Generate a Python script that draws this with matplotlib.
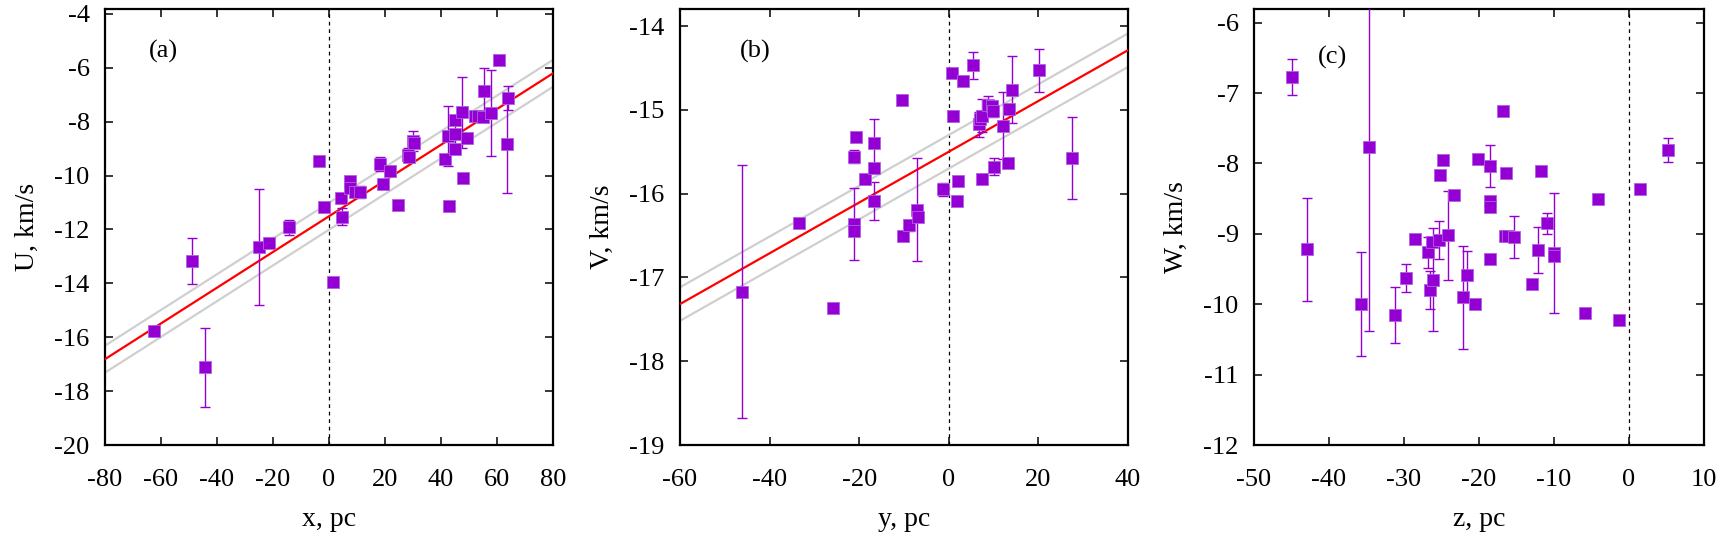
import matplotlib

matplotlib.use("Agg")
import matplotlib.pyplot as plt
import numpy as np

# ---- panel (a): U vs x ----
x_pc = [-62.4, -48.8, -44.2, -25.0, -21.4, -14.2, -3.5, -1.8, 1.45, 4.2,
        4.5, 7.5, 7.5, 9.3, 11.1, 18.2, 19.4, 21.8, 24.8, 28.2,
        28.5, 30.1, 30.4, 41.4, 42.6, 42.9, 45.0, 45.0, 45.0, 47.6,
        48.0, 49.2, 52.1, 53.3, 54.9, 55.5, 57.7, 60.8, 63.4, 64.1]
u_kms = [-15.77, -13.18, -17.12, -12.66, -12.51, -11.92, -9.45, -11.18, -13.96, -10.84,
         -11.52, -10.22, -10.47, -10.60, -10.62, -9.57, -10.31, -9.83, -11.10, -9.22,
         -9.30, -8.71, -8.78, -9.39, -8.53, -11.13, -7.93, -8.45, -9.02, -7.65,
         -10.10, -8.62, -7.78, -7.78, -7.84, -6.88, -7.69, -5.71, -8.84, -7.13]
u_err = [0.0, 0.85, 1.47, 2.15, 0.0, 0.27, 0.0, 0.0, 0.0, 0.0,
         0.30, 0.0, 0.0, 0.0, 0.23, 0.25, 0.0, 0.0, 0.0, 0.25,
         0.0, 0.38, 0.0, 0.0, 1.10, 0.0, 0.12, 0.60, 0.0, 1.31,
         0.10, 0.0, 0.0, 0.0, 0.10, 0.87, 1.59, 0.0, 1.82, 0.45]

# ---- panel (b): V vs y ----
y_pc = [-46.2, -33.5, -25.9, -21.25, -20.8, -21.25, -21.25, -18.8, -16.6, -16.6,
        -16.7, -10.4, -10.2, -8.9, -7.0, -6.8, -1.2, 0.8, 1.0, 1.8,
        2.1, 3.2, 5.5, 6.7, 7.0, 7.3, 7.3, 8.8, 9.6, 9.9,
        10.2, 12.2, 13.3, 13.5, 14.0, 20.2, 27.6]
v_kms = [-17.17, -16.35, -17.37, -15.56, -15.33, -16.36, -16.44, -15.82, -15.39, -15.70,
         -16.09, -14.88, -16.50, -16.38, -16.19, -16.28, -15.95, -14.56, -15.07, -16.09,
         -15.85, -14.65, -14.47, -15.17, -15.11, -15.07, -15.82, -14.94, -14.96, -15.01,
         -15.68, -15.19, -15.64, -14.99, -14.76, -14.53, -15.58]
v_err = [1.51, 0.0, 0.0, 0.08, 0.0, 0.43, 0.0, 0.0, 0.28, 0.0,
         0.23, 0.0, 0.0, 0.07, 0.61, 0.0, 0.08, 0.0, 0.0, 0.0,
         0.0, 0.0, 0.16, 0.15, 0.0, 0.20, 0.0, 0.10, 0.0, 0.08,
         0.10, 0.40, 0.0, 0.0, 0.40, 0.26, 0.49]

# ---- panel (c): W vs z ----
z_pc = [-45.0, -42.9, -35.7, -34.7, -31.25, -29.7, -28.5, -26.76, -26.6, -26.3,
        -26.1, -25.3, -25.16, -24.76, -24.1, -23.3, -22.1, -21.6, -20.5, -20.2,
        -18.6, -18.5, -18.6, -18.6, -16.8, -16.36, -16.5, -16.1, -15.3, -12.9,
        -12.1, -11.8, -11.0, -10.0, -10.0, -5.9, -4.1, -1.4, 1.4, 5.2]
w_kms = [-6.77, -9.22, -10.00, -7.76, -10.15, -9.63, -9.08, -9.26, -9.80, -9.12,
         -9.65, -9.09, -8.17, -7.95, -9.02, -8.45, -9.90, -9.59, -9.99, -7.93,
         -8.04, -8.53, -8.62, -9.36, -7.26, -8.13, -9.03, -9.03, -9.05, -9.71,
         -9.23, -8.11, -8.85, -9.27, -9.32, -10.13, -8.50, -10.22, -8.37, -7.81]
w_err = [0.26, 0.73, 0.74, 2.62, 0.40, 0.20, 0.0, 0.22, 0.27, 0.0,
         0.73, 0.27, 0.0, 0.0, 0.63, 0.0, 0.73, 0.34, 0.0, 0.0,
         0.30, 0.0, 0.0, 0.0, 0.0, 0.0, 0.0, 0.0, 0.30, 0.0,
         0.33, 0.0, 0.15, 0.85, 0.0, 0.0, 0.0, 0.0, 0.0, 0.17]

# linear fits: slope, intercept, half-width of the grey band
fit_u = (0.0663, -11.51, 0.5)
fit_v = (0.0303, -15.50, 0.2)

PURPLE = "#9400d3"

plt.rcParams["font.family"] = ["Liberation Serif", "DejaVu Serif"]
plt.rcParams["axes.unicode_minus"] = False

fig = plt.figure(figsize=(17.34, 5.36), dpi=100)

W, H = 1734, 536
boxes = [(105, 553), (680, 1128), (1254, 1704)]
top_px, bot_px = 9.3, 445

panels = [
    dict(x=x_pc, y=u_kms, e=u_err, fit=fit_u, xlim=(-80, 80), ylim=(-20, -3.83),
         xt=np.arange(-80, 81, 20), yt=np.arange(-20, -3, 2),
         xl="x, pc", yl="U, km/s", tag="(a)", tagpos=(0.131, 0.904)),
    dict(x=y_pc, y=v_kms, e=v_err, fit=fit_v, xlim=(-60, 40), ylim=(-19, -13.8),
         xt=np.arange(-60, 41, 20), yt=np.arange(-19, -13, 1),
         xl="y, pc", yl="V, km/s", tag="(b)", tagpos=(0.167, 0.904)),
    dict(x=z_pc, y=w_kms, e=w_err, fit=None, xlim=(-50, 10), ylim=(-12, -5.81),
         xt=np.arange(-50, 11, 10), yt=np.arange(-12, -5, 1),
         xl="z, pc", yl="W, km/s", tag="(c)", tagpos=(0.175, 0.889)),
]

for (l, r), p in zip(boxes, panels):
    ax = fig.add_axes([l / W, 1 - bot_px / H, (r - l) / W, (bot_px - top_px) / H])
    ax.set_xlim(*p["xlim"])
    ax.set_ylim(*p["ylim"])

    ax.axvline(0, color="black", lw=0.9, ls=(0, (3, 3)), zorder=1)

    if p["fit"] is not None:
        k, b, dw = p["fit"]
        xx = np.array(p["xlim"], dtype=float)
        ax.plot(xx, k * xx + b + dw, color="#cfcfcf", lw=1.6, zorder=2)
        ax.plot(xx, k * xx + b - dw, color="#cfcfcf", lw=1.6, zorder=2)
        ax.plot(xx, k * xx + b, color="#ff0000", lw=1.6, zorder=3)

    xs = np.array(p["x"])
    ys = np.array(p["y"])
    es = np.array(p["e"])
    has = es > 0
    ax.errorbar(xs[has], ys[has], yerr=es[has], fmt="none", ecolor=PURPLE,
                elinewidth=1.0, capsize=3.5, capthick=1.0, zorder=4)
    ax.plot(xs, ys, "s", color=PURPLE, ms=8, mec="#b060e0", mew=0.6, zorder=5)

    ax.set_xticks(p["xt"])
    ax.set_yticks(p["yt"])
    ax.tick_params(direction="in", top=True, right=True, length=5.5, width=1.1,
                   labelsize=19)
    ax.tick_params(axis="x", pad=17)
    ax.tick_params(axis="y", pad=11)
    for s in ax.spines.values():
        s.set_linewidth(1.6)

    ax.set_xlabel(p["xl"], fontsize=20)
    ax.set_ylabel(p["yl"], fontsize=20)
    ax.xaxis.set_label_coords(0.5, -0.142)
    ax.yaxis.set_label_coords(-0.145, 0.5)

    ax.text(p["tagpos"][0], p["tagpos"][1], p["tag"], transform=ax.transAxes,
            fontsize=19, ha="center", va="center")

fig.savefig("out.png", dpi=100)
